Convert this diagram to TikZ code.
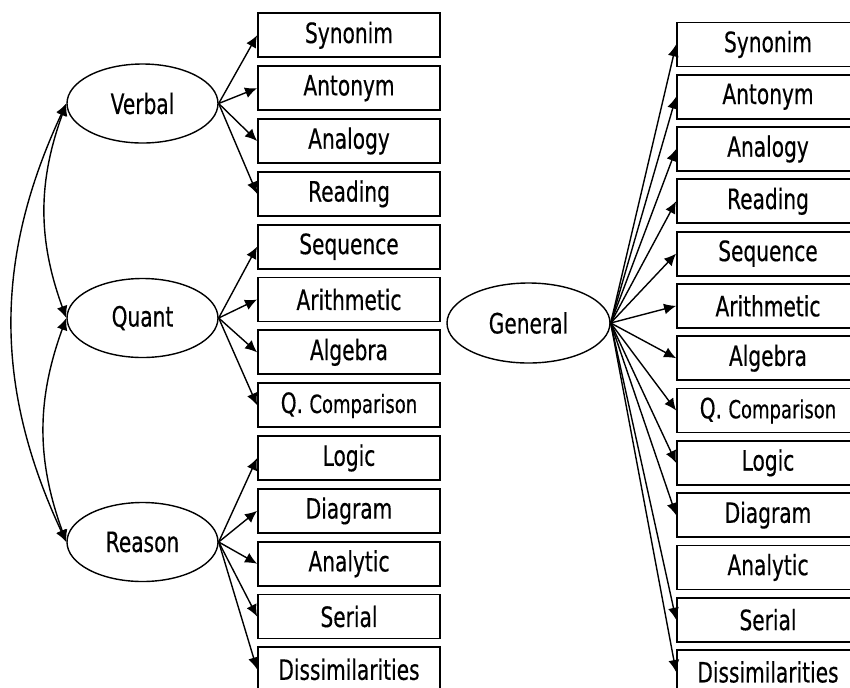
\documentclass[tikz,border=0pt]{standalone}
\usepackage{fontspec}
\setmainfont[FakeStretch=0.72, FakeBold=0.4]{DejaVu Sans}
\usetikzlibrary{shapes.geometric}
\usetikzlibrary{arrows.meta}

\begin{document}
\begin{tikzpicture}[x=1bp, y=1bp, >={Latex[length=6bp,width=5.5bp]}, font=\fontsize{14bp}{16bp}\selectfont,
	factor/.style={ellipse, draw, line width=0.7bp, minimum width=75.5bp, minimum height=39.5bp, inner sep=0pt},
	test/.style={rectangle, draw, line width=0.9bp, minimum width=91bp, minimum height=22bp, inner sep=0pt}]
	\useasboundingbox (0,0) rectangle (425,-344);

	% factors
	\node[factor] (verbal) at (71.25,-51.75) {Verbal};
	\node[factor] (quant) at (71.25,-159) {Quant};
	\node[factor] (reason) at (71.25,-271) {Reason};
	\node[factor, minimum width=81.5bp, minimum height=40bp] (general) at (264.25,-161.5) {General};

	% left column
	\begin{scope}[node distance=26.42bp]
	\node[test] (lsyn) at (174.5,-17.65) {Synonim};
	\node[test, below of=lsyn] (lant) {Antonym}; %
	\node[test, below of=lant] (lana) {Analogy}; %
	\node[test, below of=lana] (lrea) {Reading}; %
	\node[test, below of=lrea] (lseq) {Sequence}; %
	\node[test, below of=lseq] (lari) {Arithmetic}; %
	\node[test, below of=lari] (lalg) {Algebra}; %
	\node[test, below of=lalg] (lqco) {Q. {\fontsize{12.5bp}{14bp}\selectfont Comparison}}; %
	\node[test, below of=lqco] (llog) {Logic}; %
	\node[test, below of=llog] (ldia) {Diagram}; %
	\node[test, below of=ldia] (lanl) {Analytic}; %
	\node[test, below of=lanl] (lser) {Serial}; %
	\node[test, below of=lser] (ldis) {Dissimilarities}; %
	\end{scope}

	% right column
	\begin{scope}[node distance=26.15bp]
	\node[test] (rsyn) at (384,-22.2) {Synonim};
	\node[test, below of=rsyn] (rant) {Antonym}; %
	\node[test, below of=rant] (rana) {Analogy}; %
	\node[test, below of=rana] (rrea) {Reading}; %
	\node[test, below of=rrea] (rseq) {Sequence}; %
	\node[test, below of=rseq] (rari) {Arithmetic}; %
	\node[test, below of=rari] (ralg) {Algebra}; %
	\node[test, below of=ralg] (rqco) {Q. {\fontsize{12.5bp}{14bp}\selectfont Comparison}}; %
	\node[test, below of=rqco] (rlog) {Logic}; %
	\node[test, below of=rlog] (rdia) {Diagram}; %
	\node[test, below of=rdia] (ranl) {Analytic}; %
	\node[test, below of=ranl] (rser) {Serial}; %
	\node[test, below of=rser] (rdis) {Dissimilarities}; %
	\end{scope}

	% correlations
	\draw [<->, line width=0.7bp] (verbal.west) to [bend right=20] (quant.west);
	\draw [<->, line width=0.7bp] (quant.west) to [bend right=20] (reason.west);
	\draw [<->, line width=0.7bp] (verbal.west) to [bend right=25] (reason.west);

	% loadings
	\begin{scope}[line width=0.7bp]
	\draw [->] (verbal.east) -- (lsyn.west);
	\draw [->] (verbal.east) -- (lant.west);
	\draw [->] (verbal.east) -- (lana.west);
	\draw [->] (verbal.east) -- (lrea.west);
	\draw [->] (quant.east) -- (lseq.west);
	\draw [->] (quant.east) -- (lari.west);
	\draw [->] (quant.east) -- (lalg.west);
	\draw [->] (quant.east) -- (lqco.west);
	\draw [->] (reason.east) -- (llog.west);
	\draw [->] (reason.east) -- (ldia.west);
	\draw [->] (reason.east) -- (lanl.west);
	\draw [->] (reason.east) -- (lser.west);
	\draw [->] (reason.east) -- (ldis.west);
	\draw [->] (general.east) -- (rsyn.west);
	\draw [->] (general.east) -- (rant.west);
	\draw [->] (general.east) -- (rana.west);
	\draw [->] (general.east) -- (rrea.west);
	\draw [->] (general.east) -- (rseq.west);
	\draw [->] (general.east) -- (rari.west);
	\draw [->] (general.east) -- (ralg.west);
	\draw [->] (general.east) -- (rqco.west);
	\draw [->] (general.east) -- (rlog.west);
	\draw [->] (general.east) -- (rdia.west);
	\draw [->] (general.east) -- (rser.west);
	\draw [->] (general.east) -- (rdis.west);
	\end{scope}
\end{tikzpicture}
\end{document}
